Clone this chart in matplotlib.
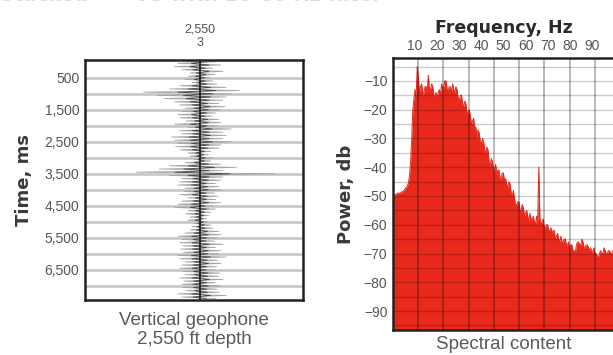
import matplotlib
matplotlib.use("Agg")
import matplotlib.pyplot as plt
import numpy as np

plt.rcParams['font.family'] = ['Liberation Sans', 'DejaVu Sans']

# geophone trace, one amplitude every 50 ms (1.0 ~ half box width)
trace_dt = 50
trace_amp = [
    0.15, -0.22, 0.2, -0.25, 0.12, -0.18, 0.22, -0.1, 0.14, -0.12,
    0.1, -0.15, 0.12, -0.08, 0.16, -0.2, 0.25, -0.3,
    0.38, -0.55, 0.3, -0.42, 0.25, -0.35,
    0.22, -0.25, 0.18, -0.2, 0.24, -0.15,
    0.2, -0.18, 0.15, -0.22, 0.12, -0.2, 0.18, -0.14, 0.2, -0.25,
    0.16, -0.12, 0.3, -0.2, 0.22, -0.18,
    0.25, -0.28, 0.22, -0.25, 0.3, -0.22, 0.2, -0.24, 0.18, -0.2,
    0.1, -0.12, 0.08, -0.1, 0.12, -0.06, 0.1, -0.15,
    0.2, -0.3, 0.35, -0.4, 0.22, -0.62, 0.72, -0.3,
    0.22, -0.18, 0.2, -0.2, 0.15, -0.22, 0.18, -0.15, 0.2, -0.16, 0.14, -0.2, 0.17, -0.12,
    0.15, -0.18, 0.2, -0.22, 0.12, -0.25, 0.15, -0.12, 0.1, -0.14,
    0.08, -0.1, 0.06, -0.12, 0.08, -0.06, 0.1, -0.08, 0.12, -0.1,
    0.18, -0.15, 0.2, -0.22, 0.16, -0.18, 0.14, -0.2, 0.22, -0.17, 0.15,
    -0.19, 0.2, -0.16, 0.18, -0.22, 0.25, -0.2, 0.17, -0.15, 0.2, -0.18,
    0.16, -0.2, 0.14, -0.17, 0.19, -0.15, 0.18, -0.2, 0.22, -0.16, 0.15,
    -0.18, 0.2, -0.17, 0.16, -0.14, 0.18, -0.22, 0.25, -0.18, 0.15,
]
time_ticks = [500, 1500, 2500, 3500, 4500, 5500, 6500]
time_lines = [500, 1000, 1500, 2000, 2500, 3000, 3500, 4000, 4500, 5000, 5500, 6000, 6500, 7000]

# power spectrum, dB every 0.5 Hz from 0 to 100
power_df = 0.5
power_db = [
    -50, -49.8, -49.5, -49.6, -49, -49.2, -49, -48.8, -48.5, -48.6, -48, -47.5, -47, -46.5, -45.5, -43,
    -38, -30, -20, -16, -13, -15, -5, -9, -14, -12,
    -11, -15, -14, -12, -12, -14, -8, -13, -13, -11,
    -12, -15, -15, -14, -16, -14, -13, -15, -11, -13,
    -12, -10, -10, -13, -13, -12, -12, -14, -11, -13,
    -14, -12, -13, -16, -17, -15, -15, -18, -19, -17,
    -18, -21, -21, -20, -22, -25, -24, -23, -27, -26,
    -30, -27, -28, -31, -32, -30, -31, -34, -35, -33,
    -34, -38, -40, -37, -38, -41, -41, -39, -43, -41,
    -41, -44, -44, -42, -42, -45, -44, -46, -47, -45,
    -46, -49, -50, -48, -51, -53, -53, -52, -52, -55,
    -55, -53, -54, -57, -56, -55, -57, -59, -56, -58,
    -58, -57, -59, -60, -57, -59, -40, -58, -60, -59,
    -58, -61, -61, -60, -60, -62, -62, -61, -63, -62,
    -62, -65, -64, -63, -65, -66, -64, -66, -66, -65,
    -65, -67, -67, -66, -68, -67, -67, -69, -69, -70,
    -67, -66, -66, -67, -67, -65, -66, -68, -68, -67,
    -67, -68, -69, -68, -70, -69, -68, -70, -70, -71,
    -71, -70, -69, -70, -70, -68, -69, -70, -70, -69,
    -69, -70, -70, -69, -69,
]
freq_ticks = [10, 20, 30, 40, 50, 60, 70, 80, 90]
db_ticks = [-10, -20, -30, -40, -50, -60, -70, -80, -90]

trace_t = np.arange(len(trace_amp)) * trace_dt
freq = np.arange(len(power_db)) * power_df

fig = plt.figure(figsize=(6.13, 3.55), dpi=100)

tick_col = '#555555'
lab_col = '#5a5a5a'

# header, cut off at the top edge like the scan
fig.text(0.0, 1.014, 'Stacked  —  VS with 10-80 Hz filter', fontsize=14,
         fontweight='bold', color='#dcdcdc', va='center', ha='left',
         family=['DejaVu Sans'])

# ---- left: vertical geophone trace
ax1 = fig.add_axes([0.1387, 0.155, 0.356, 0.676])
for t in time_lines:
    ax1.axhline(t, color='#c4c4c4', lw=1.8, zorder=1)
ax1.plot(trace_amp, trace_t, color='#a6a6a6', lw=0.6, zorder=2)
ax1.plot(np.array(trace_amp) * 0.4, trace_t, color='#4a4a4a', lw=0.6, zorder=3)
ax1.axvline(0, color='#222222', lw=1.3, zorder=4)
ax1.set_xlim(-1.12, 1.0)
ax1.set_ylim(7440, -55)
ax1.set_yticks(time_ticks)
ax1.set_yticklabels(['{:,}'.format(t) for t in time_ticks])
ax1.xaxis.tick_top()
ax1.set_xticks([0])
ax1.set_xticklabels(['2,550\n3'])
ax1.tick_params(length=0, labelsize=10, colors=tick_col, pad=4)
ax1.tick_params(axis='x', labelsize=9, pad=8)
for s in ax1.spines.values():
    s.set_linewidth(1.8)
    s.set_color('#222222')
ax1.set_ylabel('Time, ms', fontsize=13, fontweight='bold', color='#3a3a3a',
               family=['DejaVu Sans'], labelpad=8)
ax1.set_xlabel('Vertical geophone\n2,550 ft depth', fontsize=13.5, color=lab_col,
               labelpad=9, linespacing=1.15)

# ---- right: spectral content
ax2 = fig.add_axes([0.641, 0.0704, 0.3605, 0.7656])
ax2.fill_between(freq, -100, power_db, color='#e8291c', lw=0, zorder=1)
ax2.plot(freq, power_db, color='#e8291c', lw=0.7, zorder=1)
grid_step = 25 / 2.19
for k in range(1, 9):
    ax2.axvline(k * grid_step, color='black', alpha=0.32, lw=1.2, zorder=2)
for d in range(-95, 0, 5):
    ax2.axhline(d, color='black', alpha=0.2, lw=1.0, zorder=2)
ax2.set_xlim(0, 100)
ax2.set_ylim(-96.6, -2.1)
ax2.xaxis.tick_top()
ax2.xaxis.set_label_position('bottom')
ax2.set_xticks(freq_ticks)
ax2.set_yticks(db_ticks)
ax2.set_yticklabels(['\u2212{}'.format(-d) for d in db_ticks])
ax2.tick_params(length=0, labelsize=10, colors=tick_col, pad=4)
for s in ax2.spines.values():
    s.set_linewidth(1.8)
    s.set_color('#222222')
ax2.set_ylabel('Power, db', fontsize=13, fontweight='bold', color='#3a3a3a',
               family=['DejaVu Sans'], labelpad=6)
ax2.set_xlabel('Spectral content', fontsize=13.5, color=lab_col, labelpad=4)
ax2.set_title('Frequency, Hz', fontsize=12.5, fontweight='bold', color='#2a2a2a',
              family=['DejaVu Sans'], pad=18)

fig.savefig('out.png', dpi=100)
